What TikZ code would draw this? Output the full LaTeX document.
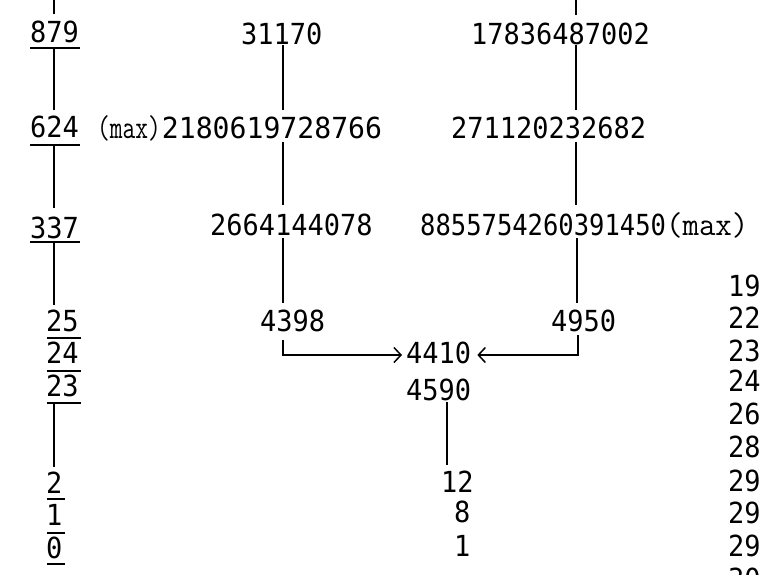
\documentclass[tikz,border=0pt]{standalone}
\usepackage{fontspec}
\usetikzlibrary{arrows.meta}
\newfontfamily\typedigits[FakeStretch=0.93]{DejaVu Sans Mono}
\newfontfamily\typedigitswide[FakeStretch=0.97]{DejaVu Sans Mono}
\newfontfamily\typedigitsnarrow[FakeStretch=0.88]{DejaVu Sans Mono}
\newfontfamily\typecourier[FakeStretch=0.75]{Latin Modern Mono}
\newfontfamily\typecourierwide[FakeStretch=0.97]{Latin Modern Mono}

\begin{document}
\begin{tikzpicture}[x=1pt,y=-1pt,
  num/.style={anchor=base west, inner sep=0pt, font=\typedigits\fontsize{29}{32}\selectfont},
  rule/.style={line width=2.2pt},
  link/.style={line width=1.5pt},
  arr/.style={line width=1.5pt, -{Straight Barb[length=7pt,width=15pt,line width=1.5pt]}}
]
\useasboundingbox (0,0) rectangle (763,574);
\clip (0,0) rectangle (763,574);

% ---- left chain ----
\node[num] (n879) at (30,42)  {879};
\node[num] (n624) at (30,137) {624};
\node[num] (n337) at (30,238) {337};
\node[num] (n25)  at (46,331) {25};
\node[num] (n24)  at (46,363) {24};
\node[num] (n23)  at (46,396) {23};
\node[num] (n2)   at (46,493) {2};
\node[num] (n1)   at (46,525) {1};
\node[num] (n0)   at (46,558) {0};

\draw[rule] (30,48)  -- (80,48);
\draw[rule] (30,145) -- (80,145);
\draw[rule] (30,242) -- (80,242);
\draw[rule] (47,338) -- (81,338);
\draw[rule] (47,371) -- (81,371);
\draw[rule] (47,403) -- (81,403);
\draw[rule] (47,499) -- (65,499);
\draw[rule] (47,533) -- (65,533);
\draw[rule] (47,564) -- (65,564);

\coordinate (ltop) at (54,0);
\draw[link] (ltop) -- (54,14);
\draw[link] (54,48)  -- (54,110);
\draw[link] (54,145) -- (54,208);
\draw[link] (54,242) -- (54,305);
\draw[link] (54,403) -- (54,467);

% ---- middle chain ----
\node[num] (a1) at (241,44)  {31170};
\node[num] (a2) at (97,138)  {\typecourier\fontsize{33}{34}\selectfont(max)\kern1pt\typedigitswide\fontsize{29}{32}\selectfont2180619728766};
\node[num] (a3) at (210,235) {2664144078};
\node[num] (a4) at (260,331) {4398};

% ---- right chain ----
\node[num] (b1) at (471,44)  {17836487002};
\node[num] (b2) at (451,138) {271120232682};
\node[num] (b3) at (420,235) {\typedigitsnarrow\fontsize{29}{32}\selectfont8855754260391450\typecourierwide\fontsize{33}{34}\selectfont(max)};
\node[num] (b4) at (551,331) {4950};

% ---- meeting point ----
\node[num] (m1) at (406,363) {4410};
\node[num] (m2) at (406,400) {4590};
\node[num] (m3) at (441,492) {12};
\node[num] (m4) at (454,522) {8};
\node[num] (m5) at (454,556) {1};

\draw[link] (283,45)  -- (283,110);
\draw[link] (283,142) -- (283,205);
\draw[link] (283,238) -- (283,303);

\coordinate (rtop) at (576,0);
\draw[link] (rtop) -- (576,15);
\draw[link] (576,45)  -- (576,110);
\draw[link] (576,142) -- (576,205);
\draw[link] (577,238) -- (577,303);

\draw[arr] (283,340) -- (283,355) -- ([xshift=-4pt]m1.west |- 0,355);
\draw[arr] (578,335) -- (578,355) -- ([xshift=6pt]m1.east |- 0,355);

\draw[link] (447,402) -- (447,465);

% ---- right-hand list ----
\foreach \v/\y [count=\i] in {19/296, 22/328, 23/361, 24/391, 26/424, 28/457, 29/491, 29/523, 29/556, 30/589}
  \node[num] (r\i) at (728,\y) {\v};
\end{tikzpicture}
\end{document}
